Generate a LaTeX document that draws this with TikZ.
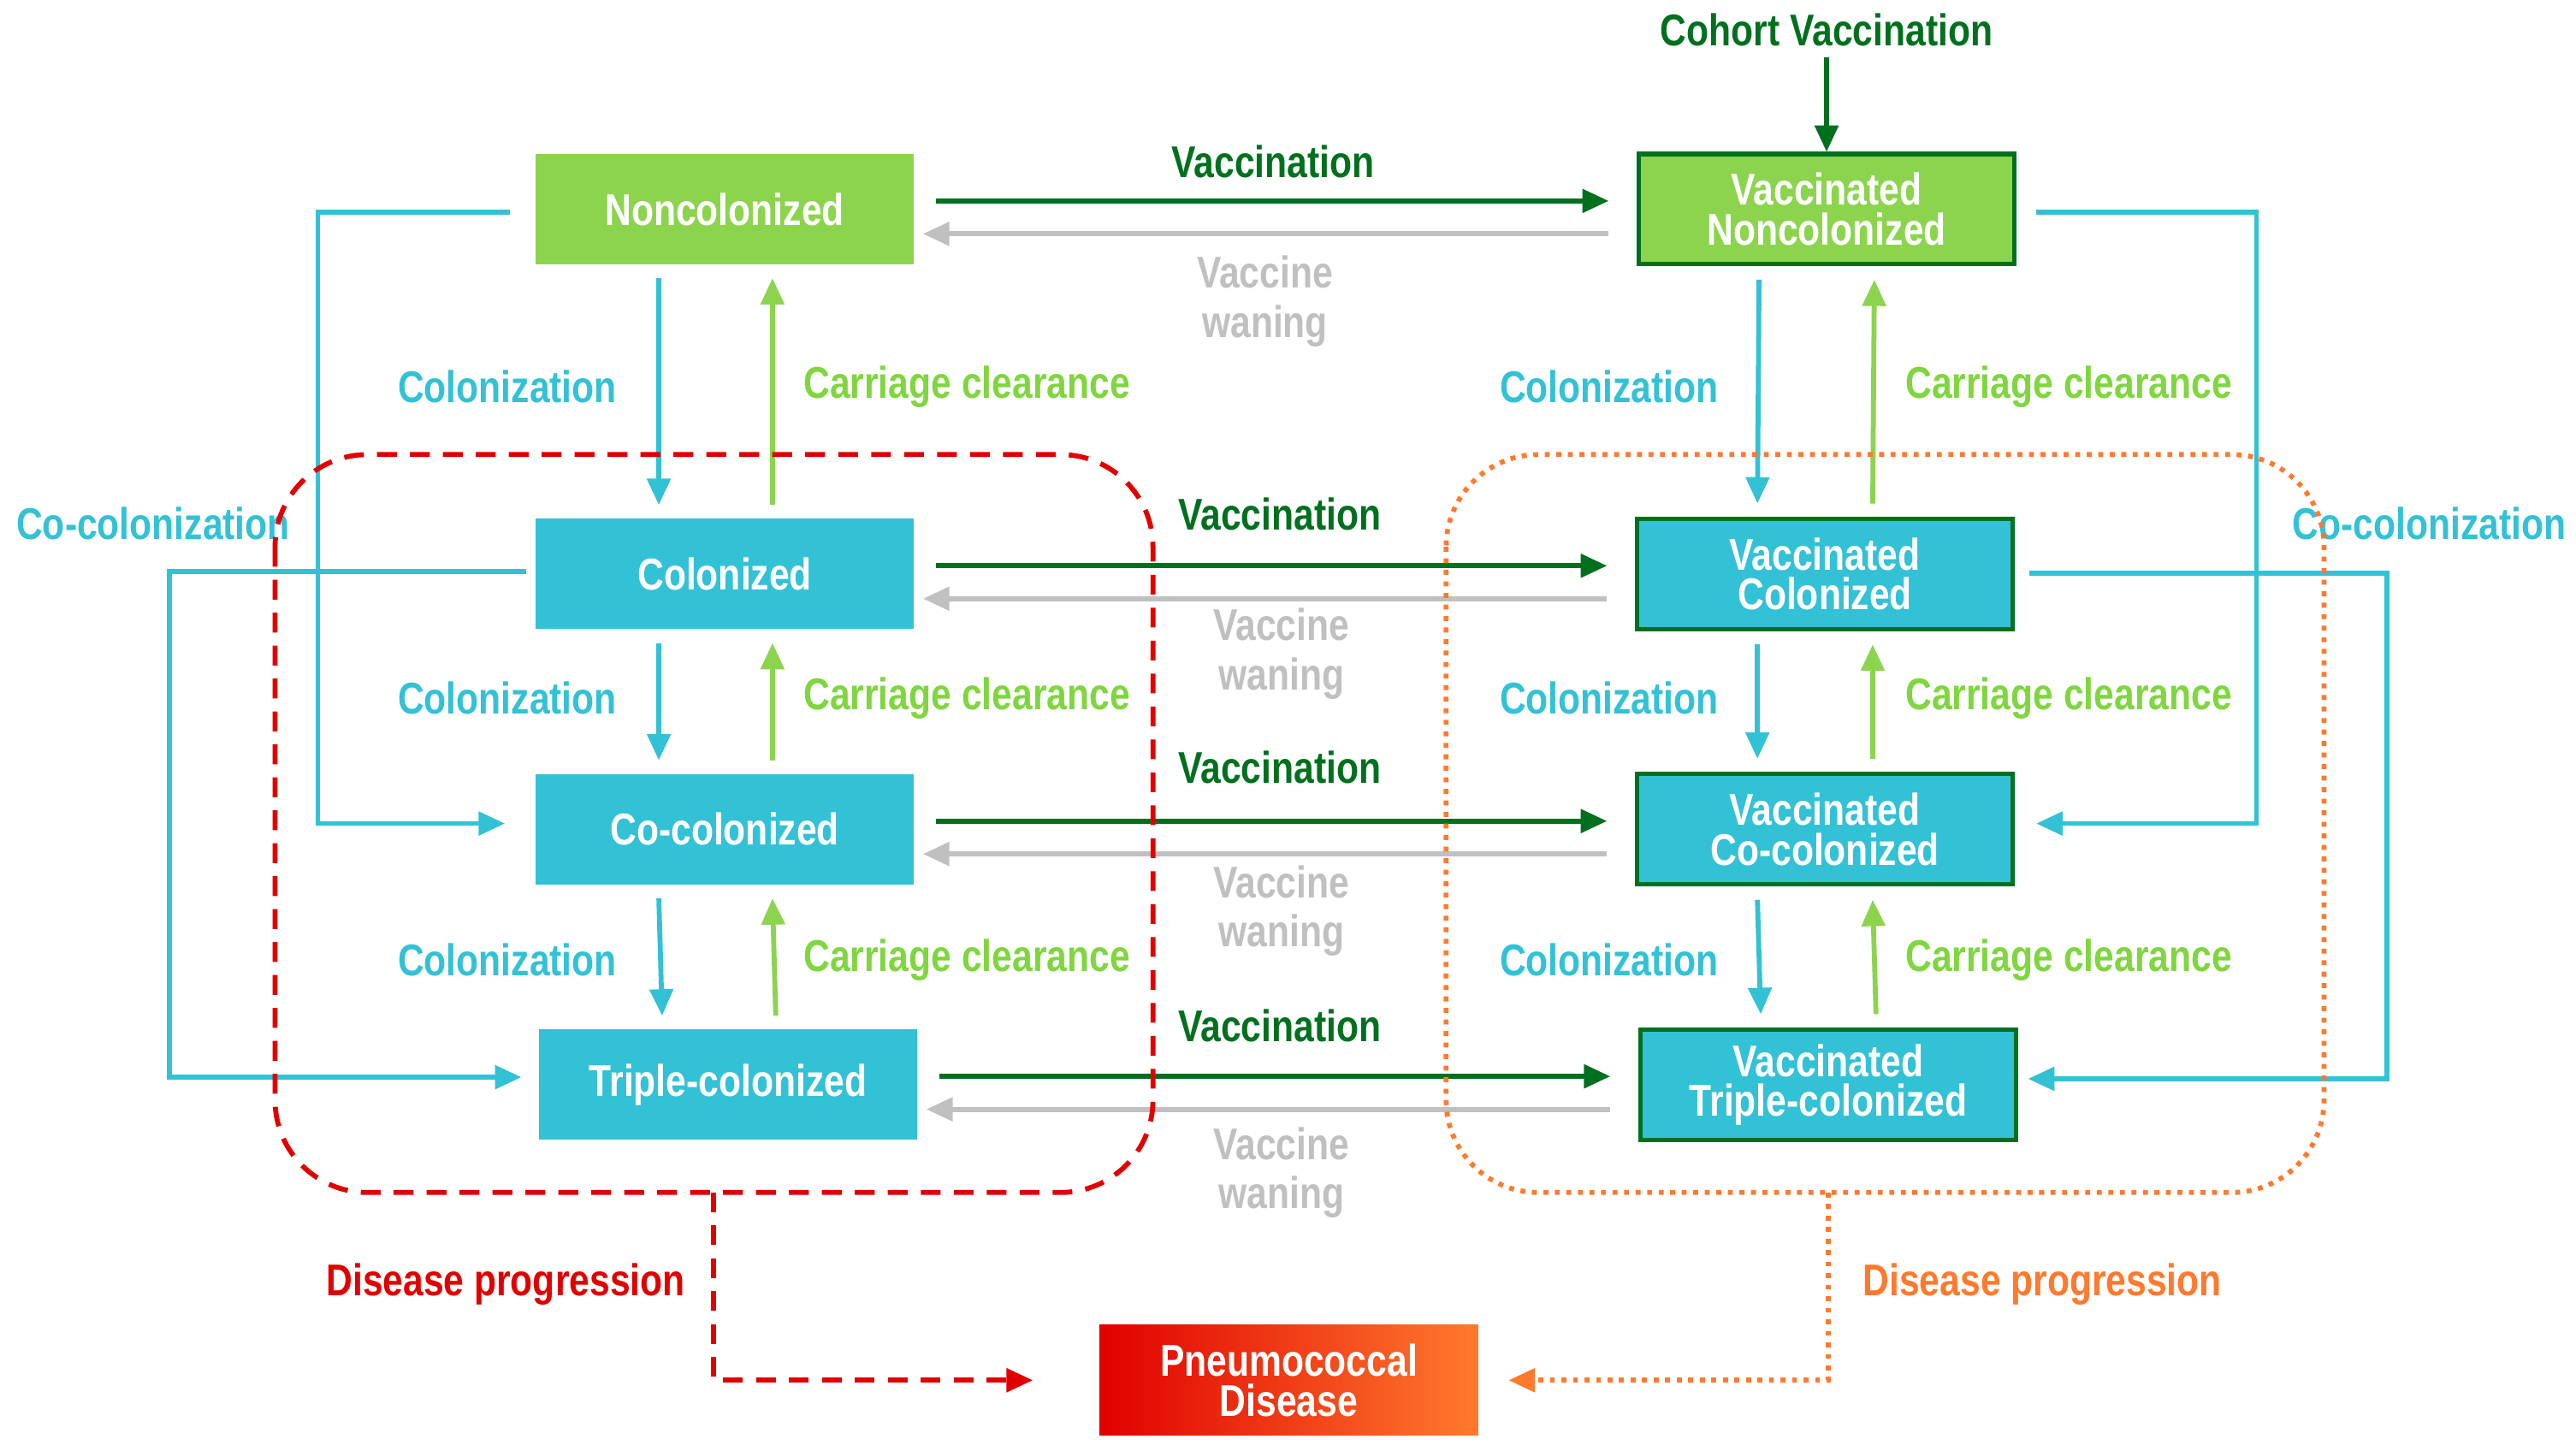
\documentclass[tikz,border=0pt]{standalone}
\usepackage{fontspec}
\setmainfont{Liberation Sans}[FakeStretch=0.82]
\usetikzlibrary{arrows.meta,calc}
\definecolor{cy}{HTML}{33C1D6}
\definecolor{lg}{HTML}{8CD44E}
\definecolor{lgt}{HTML}{7FD63F}
\definecolor{dg}{HTML}{00701E}
\definecolor{gr}{HTML}{C0C0C0}
\definecolor{rd}{HTML}{E00000}
\definecolor{org}{HTML}{FF7A2E}
\begin{document}
\begin{tikzpicture}[x=0.5pt,y=-0.5pt,
  font=\bfseries\fontsize{13.5}{14}\selectfont,
  box/.style={minimum width=115pt,minimum height=33.5pt,text=white,inner sep=1pt,align=center,font=\bfseries\fontsize{13.5}{14}\selectfont,baseline},
  vbox/.style={box,draw=dg,line width=1.3pt},
  arr/.style={line width=1.5pt,-{Triangle[length=8pt,width=7pt]}},
  lbl/.style={font=\bfseries\fontsize{13.5}{14}\selectfont}]
\useasboundingbox (0,0) rectangle (1564,877);
% boxes
\node[box,fill=lg] (nc) at (440,127) {Noncolonized};
\node[box,fill=cy] (c1) at (440,348.5) {Colonized};
\node[box,fill=cy] (c2) at (440,503.5) {Co-colonized};
\node[box,fill=cy] (c3) at (442,658.5) {Triple-colonized};
\node[vbox,fill=lg,minimum width=114pt] (vnc) at (1109,127) {Vaccinated\\[-2pt]Noncolonized};
\node[vbox,fill=cy,minimum width=114pt] (v1) at (1108,348.5) {Vaccinated\\[-2pt]Colonized};
\node[vbox,fill=cy,minimum width=114pt] (v2) at (1108,503.5) {Vaccinated\\[-2pt]Co-colonized};
\node[vbox,fill=cy,minimum width=114pt] (v3) at (1110,658.5) {Vaccinated\\[-2pt]Triple-colonized};
\node[box,left color=rd,right color=org] (pd) at (782.5,838) {Pneumococcal\\[-2pt]Disease};
% horizontal arrows
\foreach \a/\b/\vy/\wy in {nc/vnc/98/183, c1/v1/312/397, c2/v2/466/553, c3/v3/623/712}{
  \draw[arr,dg] ($(\a.east)+(13,-5)$) -- ($(\b.west)+(-17,-5)$);
  \draw[arr,gr] ($(\b.west)+(-17,15)$) -- ($(\a.east)+(5,15)$);
}
\node[lbl,text=dg] (l1) at (773,98) {Vaccination};
\node[lbl,text=dg] (l2) at (777,312) {Vaccination};
\node[lbl,text=dg] (l3) at (777,466) {Vaccination};
\node[lbl,text=dg] (l4) at (777,623) {Vaccination};
\node[lbl,text=gr,align=center] (w1) at (768,183) {Vaccine\\[1pt]waning};
\node[lbl,text=gr,align=center] (w2) at (778,397) {Vaccine\\[1pt]waning};
\node[lbl,text=gr,align=center] (w3) at (778,553) {Vaccine\\[1pt]waning};
\node[lbl,text=gr,align=center] (w4) at (778,712) {Vaccine\\[1pt]waning};
% vertical arrows
\foreach \a/\b in {nc/c1,c1/c2,c2/c3}{
  \draw[arr,cy] ($(\a.south)+(-40,8)$) -- ($(\b.north)+(-40,-8)$);
  \draw[arr,lg] ($(\b.north)+(29,-8)$) -- ($(\a.south)+(29,8)$);
}
\foreach \a/\b in {vnc/v1,v1/v2,v2/v3}{
  \draw[arr,cy] ($(\a.south)+(-41,8)$) -- ($(\b.north)+(-41,-8)$);
  \draw[arr,lg] ($(\b.north)+(29,-8)$) -- ($(\a.south)+(29,8)$);
}
\foreach \y [count=\i] in {235,424,583}{
  \node[lbl,text=cy] (cl\i) at (308,\y) {Colonization};
  \node[lbl,text=lgt] (cc\i) at (587,\y) {Carriage clearance};
  \node[lbl,text=cy] (cr\i) at (977,\y) {Colonization};
  \node[lbl,text=lgt] (ccr\i) at (1256,\y) {Carriage clearance};
}
% co-colonization
\draw[arr,cy] ($(nc.west)+(-15,2)$) -- (193,129) |- ($(c2.west)+(-18,-3.5)$);
\draw[arr,cy] ($(c1.west)+(-5,-1.5)$) -- (103,347) |- ($(c3.west)+(-10,-4.5)$);
\draw[arr,cy] ($(vnc.east)+(12,2)$) -- (1370,129) |- ($(v2.east)+(13,-3.5)$);
\draw[arr,cy] ($(v1.east)+(9,-0.5)$) -- (1449,348) |- ($(v3.east)+(6,-3.5)$);
\node[lbl,text=cy] (co1) at (93,318) {Co-colonization};
\node[lbl,text=cy] (co2) at (1475,318) {Co-colonization};
% cohort
\node[lbl,text=dg] (coh) at (1109,18) {Cohort Vaccination};
\draw[arr,dg] (coh.south) -- (vnc.north);
% disease regions
\draw[rd,line width=1.5pt,dash pattern=on 6pt off 4pt,rounded corners=28pt] (167,276) rectangle (700,724);
\draw[org,line width=1.5pt,dotted,rounded corners=28pt] (878,276) rectangle (1411,724);
\coordinate (rb) at (433,724);
\coordinate (ob) at (1110,724);
\draw[rd,line width=1.5pt,dash pattern=on 6pt off 4pt,-{Triangle[length=8pt,width=7pt]}] (rb) |- ($(pd.west)+(-40,0)$);
\draw[org,line width=1.5pt,dotted,-{Triangle[length=8pt,width=7pt]}] (ob) |- ($(pd.east)+(18,0)$);
\node[lbl,text=rd] (dp1) at (307,780) {Disease progression};
\node[lbl,text=org] (dp2) at (1240,780) {Disease progression};
\end{tikzpicture}
\end{document}
